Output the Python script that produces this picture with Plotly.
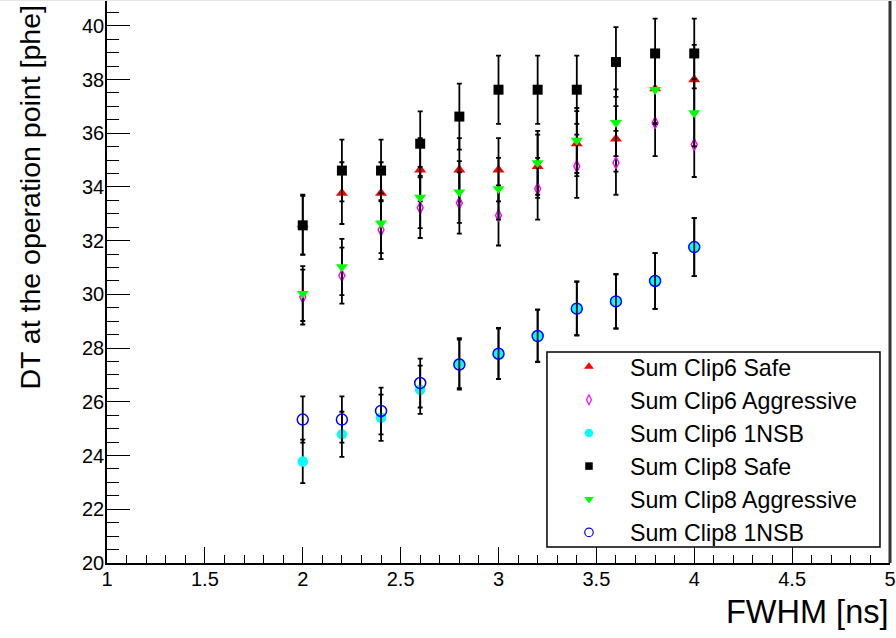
import plotly.graph_objects as go

fwhm = [2.0, 2.2, 2.4, 2.6, 2.8, 3.0, 3.2, 3.4, 3.6, 3.8, 4.0]

clip6_safe = [32.60, 33.77, 33.77, 34.64, 34.64, 34.64, 34.77, 35.61, 35.79, 37.66, 38.00]
clip6_safe_err = [1.11, 1.15, 1.15, 1.18, 1.18, 1.18, 1.18, 1.21, 1.22, 1.28, 1.29]

clip6_aggr = [29.90, 30.70, 32.41, 33.23, 33.40, 32.94, 33.93, 34.77, 34.90, 36.39, 35.58]
clip6_aggr_err = [1.02, 1.04, 1.10, 1.13, 1.14, 1.12, 1.15, 1.18, 1.19, 1.24, 1.21]

clip6_1nsb = [23.78, 24.79, 25.41, 26.45, 27.44, 27.80, 28.47, 29.48, 29.74, 30.50, 31.76]
clip6_1nsb_err = [0.81, 0.84, 0.86, 0.90, 0.93, 0.95, 0.97, 1.00, 1.01, 1.04, 1.08]

clip8_safe = [32.57, 34.61, 34.61, 35.61, 36.62, 37.62, 37.62, 37.62, 38.65, 38.97, 38.97]
clip8_safe_err = [1.10, 1.15, 1.15, 1.20, 1.23, 1.27, 1.27, 1.27, 1.30, 1.30, 1.30]

clip8_aggr = [30.03, 31.02, 32.65, 33.61, 33.81, 33.93, 34.90, 35.73, 36.39, 37.62, 36.76]
clip8_aggr_err = [1.02, 1.05, 1.11, 1.14, 1.15, 1.15, 1.19, 1.21, 1.24, 1.28, 1.25]

clip8_1nsb = [25.34, 25.34, 25.66, 26.70, 27.39, 27.79, 28.45, 29.47, 29.74, 30.50, 31.76]
clip8_1nsb_err = [0.86, 0.86, 0.87, 0.91, 0.93, 0.94, 0.97, 1.00, 1.01, 1.04, 1.08]

series_names = ["Sum Clip6 Safe", "Sum Clip6 Aggressive", "Sum Clip6 1NSB",
                "Sum Clip8 Safe", "Sum Clip8 Aggressive", "Sum Clip8 1NSB"]

FONT = "Liberation Sans, Arial, Helvetica, sans-serif"

styles = [
    dict(symbol="triangle-up", size=10.5, color="#ff0000", line=dict(width=0)),
    dict(symbol="diamond-tall-open", size=8.5, color="#ff00ff", line=dict(width=1.4, color="#ff00ff")),
    dict(symbol="circle", size=10.5, color="#00ffff", line=dict(width=0)),
    dict(symbol="square", size=10, color="#000000", line=dict(width=0)),
    dict(symbol="triangle-down", size=10.5, color="#00ff00", line=dict(width=0)),
    dict(symbol="circle-open", size=11, color="#0000ff", line=dict(width=1.5, color="#0000ff")),
]
legend_styles = [
    dict(symbol="triangle-up", size=8.5, color="#ff0000", line=dict(width=0)),
    dict(symbol="diamond-tall-open", size=7, color="#ff00ff", line=dict(width=1.2, color="#ff00ff")),
    dict(symbol="circle", size=8.5, color="#00ffff", line=dict(width=0)),
    dict(symbol="square", size=7.5, color="#000000", line=dict(width=0)),
    dict(symbol="triangle-down", size=8.5, color="#00ff00", line=dict(width=0)),
    dict(symbol="circle-open", size=8.5, color="#0000ff", line=dict(width=1.2, color="#0000ff")),
]

ys = [clip6_safe, clip6_aggr, clip6_1nsb, clip8_safe, clip8_aggr, clip8_1nsb]
errs = [clip6_safe_err, clip6_aggr_err, clip6_1nsb_err, clip8_safe_err, clip8_aggr_err, clip8_1nsb_err]

fig = go.Figure()
for name, y, e, st in zip(series_names, ys, errs, styles):
    fig.add_trace(go.Scatter(
        x=fwhm, y=y, mode="markers", name=name, showlegend=False,
        marker=st,
        error_y=dict(type="data", array=e, visible=True, color="#000000",
                     thickness=1.8, width=2.5),
    ))
for i, (name, st) in enumerate(zip(series_names, legend_styles)):
    fig.add_trace(go.Scatter(
        x=[None], y=[None], mode="markers", name=name, showlegend=True,
        legendgroup="g%d" % i, marker=st,
    ))

fig.update_layout(
    width=896, height=638,
    margin=dict(l=107, r=6, t=0, b=75),
    paper_bgcolor="white", plot_bgcolor="white",
    font=dict(family=FONT, color="black"),
    xaxis=dict(range=[1, 5], dtick=0.5, tick0=1, ticks="inside", ticklen=16,
               tickwidth=1, tickcolor="black", showline=True, linecolor="black",
               linewidth=1.5, showgrid=False, zeroline=False,
               tickfont=dict(size=20, family=FONT), ticklabelstandoff=-3,
               minor=dict(dtick=0.1, ticks="inside", ticklen=8, tickcolor="black",
                          tickwidth=1, showgrid=False)),
    yaxis=dict(range=[20, 40.96], dtick=2, tick0=20, ticks="inside", ticklen=23,
               tickwidth=1, tickcolor="black", showline=True, linecolor="black",
               linewidth=1.5, showgrid=False, zeroline=False,
               tickfont=dict(size=20, family=FONT), ticklabelstandoff=-3,
               minor=dict(dtick=0.5, ticks="inside", ticklen=12, tickcolor="black",
                          tickwidth=1, showgrid=False)),
    legend=dict(x=0.5632, y=0.3872, xanchor="left", yanchor="top",
                bgcolor="rgba(0,0,0,0)", borderwidth=0,
                font=dict(size=23.2, family=FONT), itemwidth=72,
                tracegroupgap=0),
    showlegend=True,
)

fig.add_shape(type="rect", xref="paper", yref="paper",
              x0=0.5619, x1=0.9872, y0=0.0284, y1=0.3748,
              line=dict(color="black", width=1.5), fillcolor="white", layer="above")
fig.add_shape(type="line", xref="paper", yref="paper", x0=1, x1=1, y0=0, y1=1,
              line=dict(color="#333333", width=3))
fig.add_shape(type="line", xref="paper", yref="paper", x0=-0.2, x1=1.01, y0=1, y1=1,
              line=dict(color="#e6e6e6", width=2))

fig.add_annotation(text="DT at the operation point [phe]", xref="paper", yref="paper",
                   x=-0.0995, y=1, xanchor="center", yanchor="top", yshift=-3,
                   textangle=-90, showarrow=False, font=dict(size=28.5, family=FONT))
fig.add_annotation(text="FWHM [ns]", xref="paper", yref="paper",
                   x=1, y=-0.087, xanchor="right", yanchor="middle", xshift=0,
                   showarrow=False, font=dict(size=32.5, family=FONT))

fig.write_html("out.html", post_script="document.body.style.margin='0';",
               config={"displayModeBar": False})
